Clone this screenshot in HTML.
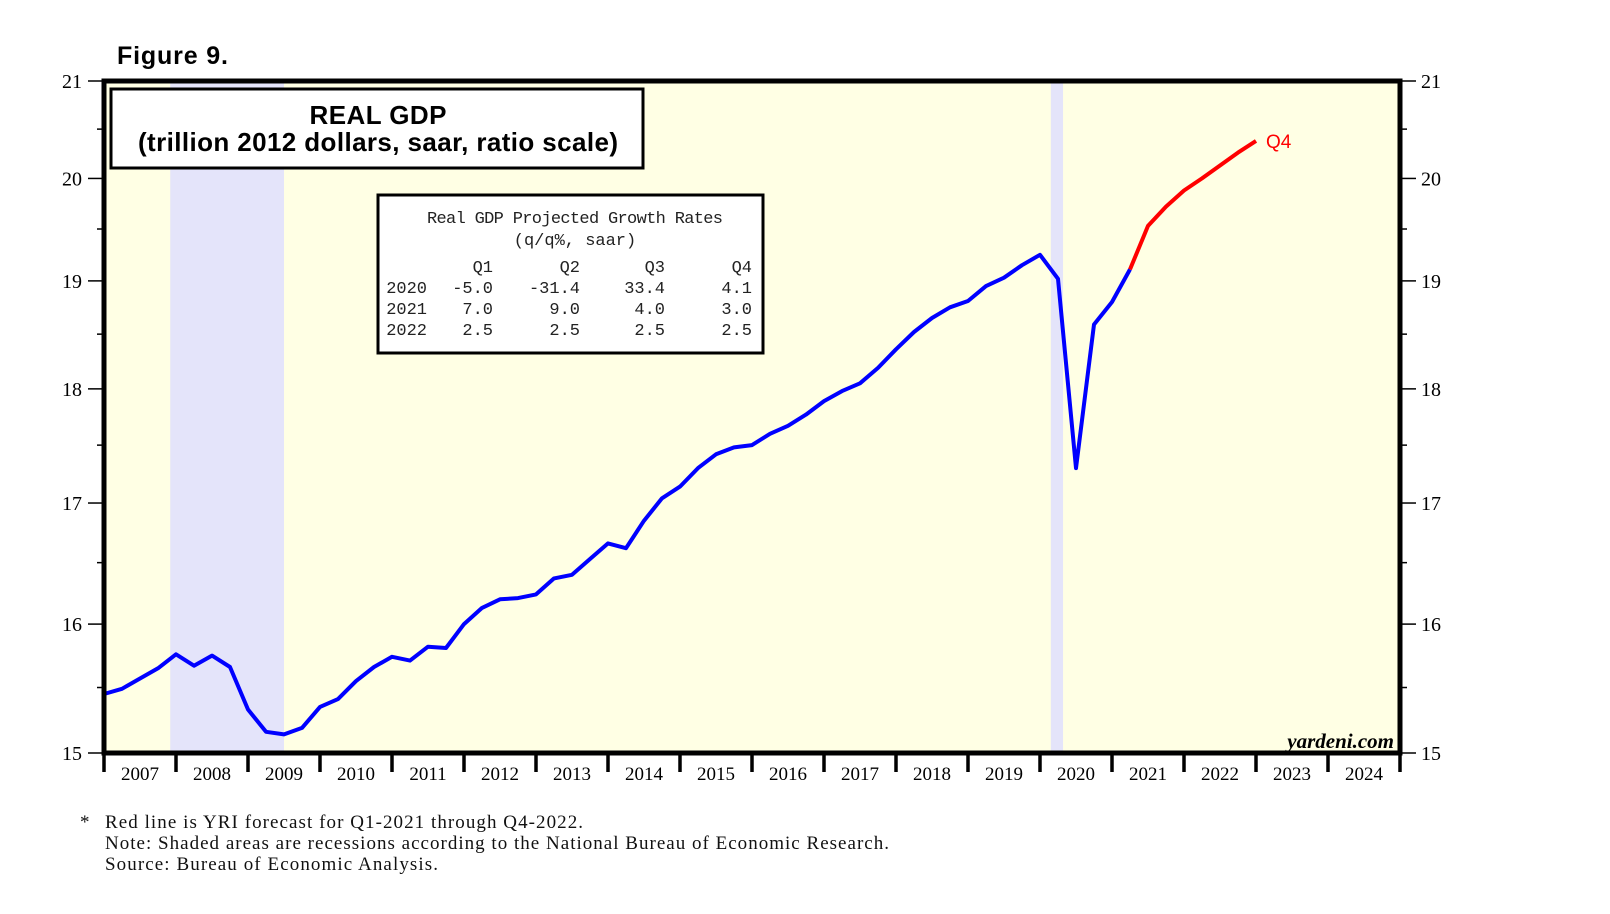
<!DOCTYPE html>
<html><head><meta charset="utf-8"><style>
html,body{margin:0;padding:0;background:#fff;}
svg{display:block;}
.serif{font-family:"Liberation Serif",serif;}
.sans{font-family:"Liberation Sans",sans-serif;}
.mono{font-family:"Liberation Mono",monospace;font-size:17px;fill:#222;}
</style></head><body>
<svg id="chart" width="1610" height="914" viewBox="0 0 1610 914" xmlns="http://www.w3.org/2000/svg">
<text x="117" y="64" class="sans" font-size="25" font-weight="bold" textLength="111">Figure 9.</text>
<rect x="104" y="81" width="1296" height="672" fill="#ffffe4"/>
<g id="recessions"></g>
<g id="axes"></g>
<g id="series"></g>
<rect x="104" y="81" width="1296" height="672" fill="none" stroke="#000" stroke-width="5"/>

<g>
<rect x="111" y="89" width="532" height="79" fill="#fff" stroke="#000" stroke-width="3"/>
<text x="378" y="124" text-anchor="middle" class="sans" font-size="26" font-weight="bold" textLength="137">REAL GDP</text>
<text x="378" y="151" text-anchor="middle" class="sans" font-size="26" font-weight="bold" textLength="480">(trillion 2012 dollars, saar, ratio scale)</text>
</g>

<g>
<rect x="378" y="195" width="385" height="158" fill="#fff" stroke="#000" stroke-width="3"/>
<text x="575" y="223" text-anchor="middle" class="mono" textLength="296">Real GDP Projected Growth Rates</text>
<text x="575" y="245" text-anchor="middle" class="mono">(q/q%, saar)</text>
<g class="mono" text-anchor="end">
<text x="493" y="272">Q1</text><text x="580" y="272">Q2</text><text x="665" y="272">Q3</text><text x="752" y="272">Q4</text>
<text x="427" y="293">2020</text><text x="493" y="293">-5.0</text><text x="580" y="293">-31.4</text><text x="665" y="293">33.4</text><text x="752" y="293">4.1</text>
<text x="427" y="314">2021</text><text x="493" y="314">7.0</text><text x="580" y="314">9.0</text><text x="665" y="314">4.0</text><text x="752" y="314">3.0</text>
<text x="427" y="335">2022</text><text x="493" y="335">2.5</text><text x="580" y="335">2.5</text><text x="665" y="335">2.5</text><text x="752" y="335">2.5</text>
</g>
</g>

<text x="1394" y="748" text-anchor="end" class="serif" font-size="21" font-weight="bold" font-style="italic">yardeni.com</text>
<text id="q4label" x="1269" y="149" class="sans" font-size="19" fill="#ff0000">Q4</text>

<g class="serif" font-size="19" fill="#111">
<text x="80" y="828">*</text>
<text x="105" y="828" textLength="478">Red line is YRI forecast for Q1-2021 through Q4-2022.</text>
<text x="105" y="849" textLength="784">Note: Shaded areas are recessions according to the National Bureau of Economic Research.</text>
<text x="105" y="870" textLength="333">Source: Bureau of Economic Analysis.</text>
</g>
</svg>
<script>
// Quarterly real GDP, trillions of 2012 $, starting 2006Q4
const startTime = 2007.0;
const actualValues = [15.45,15.49,15.57,15.65,15.76,15.67,15.75,15.66,15.33,15.16,15.14,15.19,15.35,15.41,15.55,15.66,15.74,15.71,15.82,15.81,16.00,16.13,16.20,16.21,16.24,16.37,16.40,16.53,16.66,16.62,16.85,17.04,17.14,17.30,17.42,17.48,17.50,17.60,17.67,17.77,17.89,17.98,18.05,18.19,18.36,18.52,18.65,18.75,18.81,18.95,19.03,19.15,19.25,19.02,17.30,18.59,18.80,19.11];
const forecastValues = [19.11,19.53,19.72,19.88,20.00,20.13,20.26,20.38];
const yTicks = [15,16,17,18,19,20,21];
const yMinorTicks = [15.5,16.5,17.5,18.5,19.5,20.5];
const yearLabels = ["2007","2008","2009","2010","2011","2012","2013","2014","2015","2016","2017","2018","2019","2020","2021","2022","2023","2024"];
const recessions = [[2007.92,2009.5],[2020.15,2020.32]];

const L=104,R=1400,T=81,B=753,tMin=2007,tMax=2025,vMin=15,vMax=21;
const NS='http://www.w3.org/2000/svg';
function xs(t){return L+(t-tMin)/(tMax-tMin)*(R-L);}
function ys(v){return B-(Math.log(v)-Math.log(vMin))/(Math.log(vMax)-Math.log(vMin))*(B-T);}
function mk(tag,attrs,parent){const e=document.createElementNS(NS,tag);for(const k in attrs)e.setAttribute(k,attrs[k]);parent.appendChild(e);return e;}

const rg=document.getElementById('recessions');
recessions.forEach(r=>{
  const e=mk('rect',{x:xs(r[0]),y:T,width:xs(r[1])-xs(r[0]),height:B-T,fill:'#e4e4fa'},rg);
  
  
});

const ax=document.getElementById('axes');
yTicks.forEach(v=>{
  const y=ys(v);
  mk('line',{x1:88,x2:L,y1:y,y2:y,stroke:'#000','stroke-width':1.5},ax);
  mk('line',{x1:R,x2:1416,y1:y,y2:y,stroke:'#000','stroke-width':1.5},ax);
  const a=mk('text',{x:82,y:y+7,'text-anchor':'end','font-size':20,class:'serif'},ax);a.textContent=v;
  
  
  const b=mk('text',{x:1421,y:y+7,'font-size':20,class:'serif'},ax);b.textContent=v;
  
  
});
yMinorTicks.forEach(v=>{
  const y=ys(v);
  mk('line',{x1:97,x2:L,y1:y,y2:y,stroke:'#000','stroke-width':1.5},ax);
  mk('line',{x1:R,x2:1407,y1:y,y2:y,stroke:'#000','stroke-width':1.5},ax);
});
for(let i=0;i<=yearLabels.length;i++){
  const x=xs(tMin+i);
  mk('line',{x1:x,x2:x,y1:B,y2:772,stroke:'#000','stroke-width':3.5},ax);
  if(i<yearLabels.length){
    const t=mk('text',{x:xs(tMin+i+0.5),y:780,'text-anchor':'middle','font-size':19,class:'serif'},ax);
    t.textContent=yearLabels[i];
    
    
  }
}

const sg=document.getElementById('series');
function pts(arr,offset){return arr.map((v,i)=>xs(startTime+(i+offset)*0.25).toFixed(1)+','+ys(v).toFixed(1)).join(' ');}
const blue=mk('polyline',{points:pts(actualValues,0),fill:'none',stroke:'#0000ff','stroke-width':4,'stroke-linejoin':'round'},sg);


const red=mk('polyline',{points:pts(forecastValues,actualValues.length-1),fill:'none',stroke:'#ff0000','stroke-width':4,'stroke-linejoin':'round'},sg);


const lastI=actualValues.length-1+forecastValues.length-1;
const lbl=document.getElementById('q4label');
lbl.setAttribute('x',xs(startTime+lastI*0.25)+10);
lbl.setAttribute('y',ys(forecastValues[forecastValues.length-1])+7);
</script>
</body></html>
